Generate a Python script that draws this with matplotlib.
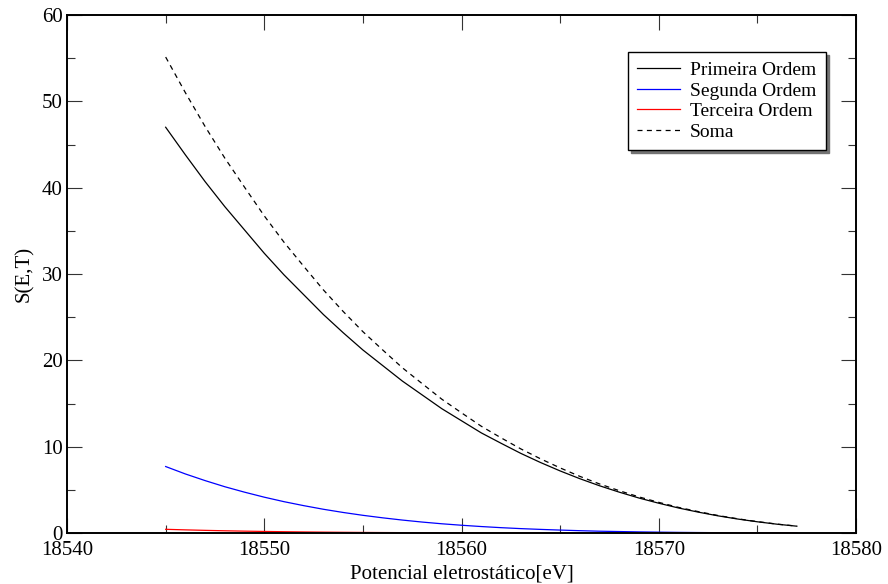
import matplotlib
matplotlib.use("Agg")
import matplotlib.pyplot as plt

plt.rcParams['font.family'] = ['Liberation Serif', 'DejaVu Serif']

# potencial eletrostatico [eV]
energia = list(range(18545, 18578))

primeira = [47.0, 43.8, 40.7, 37.8, 35.1, 32.4, 29.9, 27.6, 25.3, 23.2,
            21.2, 19.4, 17.6, 16.0, 14.4, 13.0, 11.6, 10.4, 9.23, 8.17,
            7.19, 6.29, 5.47, 4.73, 4.05, 3.45, 2.90, 2.42, 1.99, 1.62,
            1.30, 1.02, 0.79]
segunda = [7.70, 6.84, 6.07, 5.36, 4.73, 4.15, 3.63, 3.17, 2.75, 2.38,
           2.05, 1.76, 1.50, 1.27, 1.07, 0.90, 0.75, 0.62, 0.51, 0.42,
           0.34, 0.27, 0.21, 0.17, 0.13, 0.10, 0.074, 0.055, 0.040, 0.028,
           0.019, 0.013, 0.008]
terceira = [0.43, 0.365, 0.308, 0.259, 0.217, 0.181, 0.150, 0.124, 0.102, 0.083,
            0.067, 0.054, 0.044, 0.035, 0.027, 0.021, 0.017, 0.013, 0.010, 0.007,
            0.005, 0.004, 0.003, 0.002, 0.001, 0.001, 0.001, 0.0, 0.0, 0.0,
            0.0, 0.0, 0.0]
soma = [55.13, 51.0, 47.08, 43.42, 40.05, 36.73, 33.68, 30.89, 28.15, 25.66,
        23.32, 21.21, 19.14, 17.31, 15.50, 13.92, 12.37, 11.03, 9.75, 8.60,
        7.54, 6.56, 5.68, 4.90, 4.18, 3.55, 2.97, 2.48, 2.03, 1.65,
        1.32, 1.03, 0.80]

fig = plt.figure(figsize=(8.88, 5.84), dpi=100)
ax = fig.add_axes([0.0755, 0.0873, 0.8885, 0.887])

ax.plot(energia, primeira, color='black', lw=0.9, label='Primeira Ordem')
ax.plot(energia, segunda, color='blue', lw=0.9, label='Segunda Ordem')
ax.plot(energia, terceira, color='red', lw=0.9, label='Terceira Ordem')
ax.plot(energia, soma, color='black', lw=0.9, linestyle=(0, (4, 3.5)), label='Soma')

ax.set_xlim(18540, 18580)
ax.set_ylim(0, 60)
ax.set_xticks(range(18540, 18581, 10))
ax.set_xticks(range(18545, 18580, 10), minor=True)
ax.set_yticks(range(0, 61, 10))
ax.set_yticks(range(5, 60, 10), minor=True)
ax.tick_params(which='both', direction='in', top=True, right=True,
               labelsize=15, width=0.8, color='#333333')
ax.tick_params(which='major', length=11)
ax.tick_params(which='minor', length=5.5)
ax.tick_params(axis='x', pad=6)
ax.tick_params(axis='y', pad=3)
for s in ax.spines.values():
    s.set_linewidth(1.4)

ax.set_xlabel('Potencial eletrostático[eV]', fontsize=15, labelpad=3)
ax.set_ylabel('S(E,T)', fontsize=15, labelpad=6)

leg = ax.legend(loc='upper right', bbox_to_anchor=(0.962, 0.929), fontsize=14,
                frameon=True, fancybox=False, edgecolor='black',
                shadow={'color': '0.45', 'alpha': 1}, handlelength=2.2,
                handletextpad=0.5, labelspacing=0.15, borderpad=0.5,
                borderaxespad=0)
leg.get_frame().set_linewidth(1.0)

fig.savefig('out.png', dpi=100)
